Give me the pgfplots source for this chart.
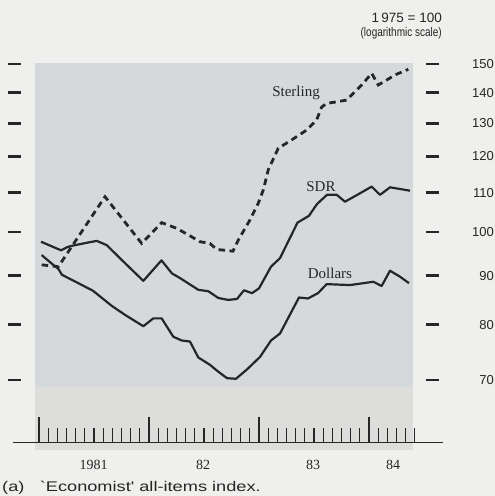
\documentclass[border=0pt]{standalone}
\usepackage{fontspec}
\setmainfont{Liberation Sans}
\newfontfamily\serifface{Liberation Serif}
\newfontfamily\noteface[FakeStretch=1.3]{Liberation Sans}
\newfontfamily\narrowface[FakeStretch=0.8]{Liberation Sans}
\usepackage{pgfplots}
\pgfplotsset{compat=1.18}

\definecolor{paper}{HTML}{EFEFED}
\definecolor{panel}{HTML}{D5D9DC}
\definecolor{panellow}{HTML}{DDDDDC}
\definecolor{ink}{HTML}{262626}

% Monthly index values (x = months from January 1981), 1975 = 100
\pgfplotstableread{
x y
0.29 92.4
2.11 92.0
7.20 108.9
11.20 97.3
13.38 102.3
15.02 100.9
16.47 99.1
17.56 97.7
18.65 97.3
19.38 95.9
21.16 95.5
21.74 98.1
23.02 103.0
23.92 107.2
24.47 110.7
25.01 116.2
26.10 122.4
27.57 124.9
29.20 127.9
30.29 131.1
30.84 135.2
31.38 136.4
32.65 137.0
33.57 137.5
34.29 139.8
35.38 143.2
36.29 146.7
37.01 142.6
37.93 144.3
38.84 146.1
40.29 148.1
}\sterling

\pgfplotstableread{
x y
0.22 97.7
2.40 95.7
3.16 96.5
3.93 96.9
6.29 97.9
7.39 96.9
9.02 93.5
11.38 88.9
13.36 93.4
14.51 90.5
15.38 89.5
17.38 87.0
18.47 86.7
19.56 85.3
20.65 84.9
21.60 85.1
22.36 86.9
23.24 86.3
24.00 87.3
25.31 92.0
26.29 93.9
28.20 102.3
29.45 104.0
30.33 107.0
31.42 109.4
32.48 109.4
33.38 107.6
35.02 109.8
36.29 111.6
37.20 109.4
38.29 111.4
40.47 110.5
}\sdr

\pgfplotstableread{
x y
0.29 94.6
1.20 93.0
2.11 91.5
2.51 90.2
4.29 88.4
5.89 86.8
7.93 83.7
9.38 81.9
11.38 79.7
12.47 81.2
13.38 81.2
14.65 77.7
15.57 77.0
16.47 76.8
17.38 73.9
18.65 72.6
19.56 71.4
20.51 70.3
21.49 70.2
22.69 71.8
24.11 74.0
25.31 77.0
26.29 78.3
28.36 85.4
29.34 85.2
30.44 86.3
31.38 88.2
33.93 88.0
36.47 88.7
37.38 87.8
38.29 91.1
39.38 89.8
40.36 88.4
}\dollars

\begin{document}
\begin{tikzpicture}
\fill[paper] (0,0) rectangle (495pt,496pt);

% index axis: logarithmic scale with ticks on both sides
\begin{axis}[
  at={(8pt,53.3pt)}, anchor=south west,
  scale only axis, width=431pt, height=378.7pt,
  xmin=-3.382, xmax=43.636,
  ymode=log, ymin=60.17, ymax=150,
  clip=false,
  axis line style={draw=none},
  xtick=\empty,
  ytick={70,80,90,100,110,120,130,140,150},
  yticklabels={70,80,90,100,110,120,130,140,150},
  yminorticks=false,
  yticklabel pos=right,
  yticklabel style={anchor=east, inner sep=0pt, xshift=55pt,
    font=\fontsize{13}{13}\selectfont, text=ink},
  major tick length=13pt,
  ytick style={line width=2.6pt, color=ink},
]
\fill[panel] (axis cs:-0.436,150.4) rectangle (axis cs:40.77,68.8);
\fill[panellow] (axis cs:-0.436,68.8) rectangle (axis cs:40.77,59.1);

\addplot[ink, line width=2.8pt, dash pattern=on 6.5pt off 4.5pt] table[x=x,y=y] {\sterling};
\addplot[ink, line width=2.2pt, line join=round] table[x=x,y=y] {\sdr};
\addplot[ink, line width=2.2pt, line join=round] table[x=x,y=y] {\dollars};

\node[font=\serifface\fontsize{15}{15}\selectfont, text=ink] at (axis cs:28.04,139.9) {Sterling};
\node[font=\serifface\fontsize{15}{15}\selectfont, text=ink] at (axis cs:30.76,111.5) {SDR};
\node[font=\serifface\fontsize{15}{15}\selectfont, text=ink] at (axis cs:31.74,90.6) {Dollars};
\end{axis}

% time axis: years and months
\begin{axis}[
  at={(8pt,53.3pt)}, anchor=south west,
  scale only axis, width=431pt, height=378.7pt,
  xmin=-3.382, xmax=43.636,
  ymin=0, ymax=1,
  clip=false,
  axis line style={draw=none},
  ytick=\empty,
  xtick={0,12,24,36},
  minor xtick={1,2,3,4,5,6,7,8,9,10,11,13,14,15,16,17,18,19,20,21,22,23,25,26,27,28,29,30,31,32,33,34,35,37,38,39,40,41},
  xtick pos=left,
  xticklabels=\empty,
  major tick length=25.6pt,
  minor tick length=14.5pt,
  xtick style={line width=1.3pt, color=ink},
  minor x tick style={line width=1.3pt, color=ink},
]
\draw[ink, line width=1.5pt] (axis cs:-2.836,0) -- (axis cs:44.04,0);
\end{axis}

\begin{scope}[every node/.style={text=ink}]
\node[font=\serifface\fontsize{14}{14}\selectfont] at (93.5pt,31pt) {1981};
\node[font=\serifface\fontsize{14}{14}\selectfont] at (203pt,31pt) {82};
\node[font=\serifface\fontsize{14}{14}\selectfont] at (313pt,31pt) {83};
\node[font=\serifface\fontsize{14}{14}\selectfont] at (393pt,31pt) {84};
\node[anchor=east, inner sep=0pt, font=\fontsize{13.5}{13.5}\selectfont] at (442pt,478pt) {1\,975 = 100};
\node[anchor=east, inner sep=0pt, font=\narrowface\fontsize{12.5}{12.5}\selectfont] at (442pt,463pt) {(logarithmic scale)};
\node[anchor=west, inner sep=0pt, font=\noteface\fontsize{14}{14}\selectfont] at (2pt,8pt) {(a)\hspace{1.1em}`Economist' all-items index.};
\end{scope}

\pgfresetboundingbox
\useasboundingbox (0,0) rectangle (495pt,496pt);
\end{tikzpicture}
\end{document}
